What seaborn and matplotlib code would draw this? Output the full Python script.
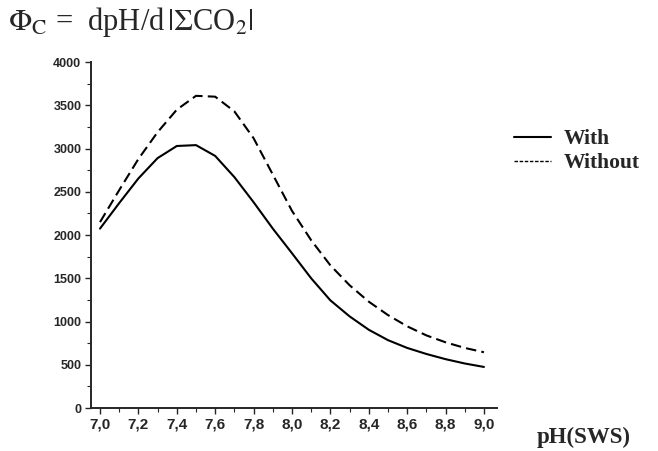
import numpy as np
import pandas as pd
import matplotlib
matplotlib.use("Agg")
import matplotlib.pyplot as plt
import seaborn as sns
from matplotlib.lines import Line2D

ph = [7.0, 7.1, 7.2, 7.3, 7.4, 7.5, 7.6, 7.7, 7.8, 7.9, 8.0,
      8.1, 8.2, 8.3, 8.4, 8.5, 8.6, 8.7, 8.8, 8.9, 9.0]
with_vals = [2075, 2370, 2655, 2890, 3030, 3040, 2915, 2670, 2380, 2075, 1790,
             1500, 1245, 1060, 905, 785, 695, 625, 565, 515, 475]
without_vals = [2150, 2520, 2880, 3190, 3450, 3610, 3600, 3430, 3120, 2700, 2280,
                1940, 1650, 1420, 1230, 1075, 945, 840, 760, 695, 645]
x_ticks = [7.0, 7.2, 7.4, 7.6, 7.8, 8.0, 8.2, 8.4, 8.6, 8.8, 9.0]
x_labels = ['7,0', '7,2', '7,4', '7,6', '7,8', '8,0', '8,2', '8,4', '8,6', '8,8', '9,0']
y_ticks = [0, 500, 1000, 1500, 2000, 2500, 3000, 3500, 4000]

df = pd.concat([
    pd.DataFrame({'pH': ph, 'Phi': with_vals, 'Case': 'With'}),
    pd.DataFrame({'pH': ph, 'Phi': without_vals, 'Case': 'Without'}),
])

sns.set_style("ticks")
plt.rcParams['font.family'] = ['Liberation Sans', 'DejaVu Sans']
plt.rcParams['mathtext.fontset'] = 'stix'

fig = plt.figure(figsize=(6.58, 4.51), dpi=100)
ax = fig.add_axes([0.1383, 0.0953, 0.617, 0.767])

sns.lineplot(
    data=df,
    x='pH',
    y='Phi',
    style='Case',
    dashes={'With': '', 'Without': (5, 2.5)},
    color='black',
    linewidth=1.5,
    ax=ax,
    legend=False
)

ax.set_xlim(6.953, 9.068)
ax.set_ylim(0, 4000)
ax.set_xticks(x_ticks)
ax.set_xticklabels(x_labels)
ax.set_xticks(np.arange(7.1, 9.0, 0.2), minor=True)
ax.set_yticks(y_ticks)
ax.set_yticks(np.arange(250, 4000, 500), minor=True)
ax.tick_params(axis='both', which='major', length=4, width=1,
               direction='out', pad=3)
ax.tick_params(axis='x', which='major', labelsize=11)
ax.tick_params(axis='y', which='major', labelsize=9)
ax.tick_params(axis='both', which='minor', length=3, width=0.8, direction='out')
for lbl in ax.get_xticklabels() + ax.get_yticklabels():
    lbl.set_fontweight('bold')
ax.set_xlabel('')
ax.set_ylabel('')
sns.despine(ax=ax)
for s in ['left', 'bottom']:
    ax.spines[s].set_linewidth(1.4)

# legend to the right of the axes
handles = [Line2D([], [], color='black', lw=1.5),
           Line2D([], [], color='black', lw=1.0, dashes=(2.5, 1.2))]
fig.legend(handles, ['With', 'Without'], loc='upper left',
           bbox_to_anchor=(0.752, 0.757), frameon=False, handlelength=1.7,
           handletextpad=0.6, labelspacing=0.2,
           prop={'family': 'Liberation Serif', 'weight': 'bold', 'size': 15.5})

fig.text(0.012, 0.952, r'$\Phi_\mathrm{C}$ =  dpH/d$\,|\Sigma$CO$_2|$',
         family='Liberation Serif', fontsize=22, ha='left', va='center')
fig.text(0.816, 0.03, 'pH(SWS)', family='Liberation Serif', fontweight='bold',
         fontsize=16.5, ha='left', va='center')

fig.savefig('out.png', dpi=100)
